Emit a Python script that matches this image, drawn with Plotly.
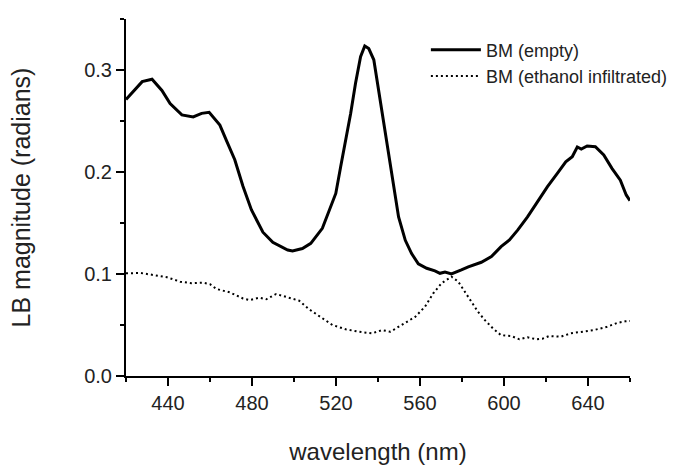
import plotly.graph_objects as go

# Series 1: BM (empty)
wl_empty = [420, 423.7, 427.7, 432.4, 437.1, 441, 446.6, 452, 456, 459.6, 464.7, 467.8,
            471.8, 475.7, 479.7, 485.2, 489.9, 497, 499.3, 504, 508, 513.5, 516.7,
            519.9, 522.2, 524.6, 527, 529.3, 531.7, 533.7, 535.6, 538, 540.3, 542.7,
            545, 547.4, 549.8, 553, 556, 559.2, 563.2, 567.1, 569.5, 571.9, 575, 579.7,
            583, 589.2, 594, 598.6, 602.6, 606.5, 611.2, 616, 620.7, 625.4, 629.4,
            632.5, 634.9, 636.8, 639.6, 643.5, 647.5, 651.4, 655.4, 658.2, 660]
lb_empty = [0.271, 0.279, 0.2886, 0.291, 0.280, 0.267, 0.256, 0.254, 0.2575, 0.2585, 0.246, 0.231,
            0.212, 0.186, 0.163, 0.141, 0.131, 0.1235, 0.1225, 0.125, 0.130, 0.1448, 0.161,
            0.179, 0.205, 0.231, 0.2575, 0.287, 0.313, 0.3235, 0.321, 0.310, 0.280, 0.248,
            0.215, 0.1856, 0.156, 0.133, 0.120, 0.110, 0.1056, 0.103, 0.1007, 0.102, 0.100, 0.104,
            0.107, 0.1115, 0.117, 0.1268, 0.1333, 0.143, 0.156, 0.171, 0.1856, 0.1987, 0.210,
            0.215, 0.2245, 0.2225, 0.2255, 0.2248, 0.2167, 0.2036, 0.192, 0.1775, 0.172]

# Series 2: BM (ethanol infiltrated)
wl_eth = [420, 426.9, 433.1, 439.5, 445.8, 451.3, 456.8, 460, 463.1, 469.4, 475.7, 478.9,
          483.6, 486.8, 491.5, 496.2, 502.5, 507.2, 512, 518.3, 524.6, 530.9, 537.2, 541.9,
          545.9, 551.3, 557.7, 562.4, 566.3, 570.3, 575, 578.2, 581.3, 584.4, 587.6, 590.8,
          594.7, 598.6, 603.4, 607.3, 611.2, 615.2, 618.3, 621.5, 627, 631.7, 636.4, 642.8,
          649.1, 653.9, 657.8, 660]
lb_eth = [0.1007, 0.101, 0.099, 0.0968, 0.0925, 0.0909, 0.0915, 0.090, 0.0853, 0.082, 0.076, 0.0745,
          0.0768, 0.0752, 0.0804, 0.0778, 0.0738, 0.0654, 0.0591, 0.050, 0.0458, 0.0434, 0.0418, 0.045,
          0.0434, 0.050, 0.058, 0.068, 0.081, 0.091, 0.0974, 0.0925, 0.0827, 0.0729, 0.063, 0.055,
          0.0467, 0.040, 0.0392, 0.036, 0.038, 0.036, 0.0366, 0.0392, 0.0385, 0.0418, 0.0434, 0.045,
          0.0483, 0.052, 0.0536, 0.054]

x_ticks = [440, 480, 520, 560, 600, 640]
y_ticks = [0.0, 0.1, 0.2, 0.3]

FONT = "Liberation Sans, Arial, sans-serif"

fig = go.Figure()
fig.add_trace(go.Scatter(x=wl_empty, y=lb_empty, mode="lines", name="BM (empty)",
                         line=dict(color="black", width=3)))
fig.add_trace(go.Scatter(x=wl_eth, y=lb_eth, mode="lines", name="BM (ethanol infiltrated)",
                         line=dict(color="black", width=2, dash="2px,3px")))

axis_common = dict(showgrid=False, zeroline=False, showline=True, linecolor="black", linewidth=2,
                   ticks="outside", ticklen=8, tickwidth=2, tickcolor="black", automargin=False,
                   tickfont=dict(family=FONT, size=20, color="#222"))

fig.update_xaxes(range=[420, 660], tickvals=x_ticks, ticktext=[str(v) for v in x_ticks],
                 minor=dict(dtick=20, tick0=0, ticks="outside", ticklen=4, tickwidth=2, tickcolor="black"),
                 title=dict(text="wavelength (nm)", font=dict(family=FONT, size=24, color="#222"), standoff=32),
                 **axis_common)
fig.update_yaxes(range=[0, 0.35], tickvals=y_ticks, ticktext=["%.1f" % v for v in y_ticks],
                 minor=dict(dtick=0.05, tick0=0, ticks="outside", ticklen=4, tickwidth=2, tickcolor="black"),
                 title=dict(text="LB magnitude (radians)", font=dict(family=FONT, size=25, color="#222"), standoff=46),
                 **axis_common)

fig.update_layout(
    width=700, height=465,
    margin=dict(l=126, r=70, t=19, b=89),
    plot_bgcolor="white", paper_bgcolor="white",
    legend=dict(x=0.595, y=0.965, xanchor="left", yanchor="top", bgcolor="rgba(0,0,0,0)",
                font=dict(family=FONT, size=18, color="#222"), itemwidth=50,
                tracegroupgap=0),
)

fig.write_html("out.html")
